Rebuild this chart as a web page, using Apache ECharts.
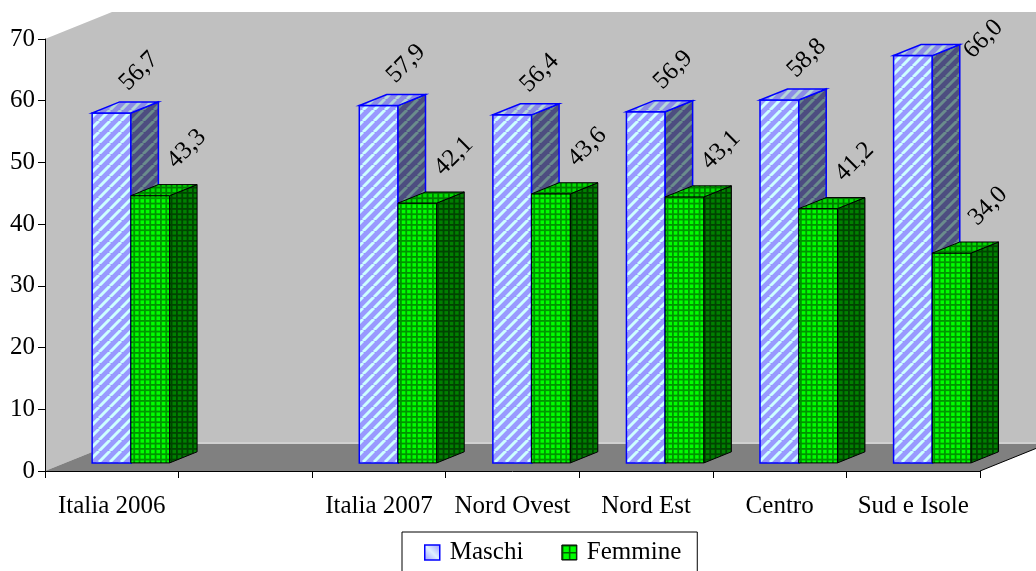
<!DOCTYPE html>
<html>
<head>
<meta charset="utf-8">
<title>Maschi e Femmine</title>
<script src="https://cdn.jsdelivr.net/npm/echarts/dist/echarts.min.js"></script>
<style>
  html, body { margin: 0; padding: 0; background: #ffffff; }
  #chart { width: 1036px; height: 571px; }
</style>
</head>
<body>
<div id="chart"></div>
<script>
// ---- data ----
const categories = ['Italia 2006', '', 'Italia 2007', 'Nord Ovest', 'Nord Est', 'Centro', 'Sud e Isole'];
const seriesNames = ['Maschi', 'Femmine'];
const maschi  = [56.7, null, 57.9, 56.4, 56.9, 58.8, 66.0];
const femmine = [43.3, null, 42.1, 43.6, 43.1, 41.2, 34.0];
const yMin = 0, yMax = 70, yStep = 10;

// ---- layout ----
const GRID = { left: 45, right: 56, top: 39, bottom: 100 };
const W = 1036, H = 571;
const DEPTH = [67, -27];            // offset of the back wall from the front plane
const BAR_D0 = 0.30, BAR_D1 = 0.71; // depth span of the boxes (fraction of DEPTH)
const BAR_W = 0.29;                 // box width as a fraction of the category band
const FONT = 'Liberation Serif';
const FS = 25;
// label anchor offsets from the centre of each box's top face
const LABEL_OFF = [[7, -12], [16, -17]];

// ---- fill patterns ----
function stripeTile(bg, fg, size, lw) {
  const c = document.createElement('canvas');
  c.width = c.height = size;
  const g = c.getContext('2d');
  g.fillStyle = bg; g.fillRect(0, 0, size, size);
  g.strokeStyle = fg; g.lineWidth = lw;
  g.beginPath();
  for (let k = -1; k <= 1; k++) { g.moveTo(k * size, size); g.lineTo(k * size + size, 0); }
  g.stroke();
  return { image: c, repeat: 'repeat' };
}
function gridTile(bg, fg, size, n, lw) {
  const c = document.createElement('canvas');
  c.width = c.height = size;
  const g = c.getContext('2d');
  g.fillStyle = bg; g.fillRect(0, 0, size, size);
  g.fillStyle = fg;
  for (let k = 0; k < n; k++) {
    const p = k * size / n;
    g.fillRect(p, 0, lw, size);
    g.fillRect(0, p, size, lw);
  }
  return { image: c, repeat: 'repeat' };
}

const STYLES = [
  {
    front: stripeTile('#9999ff', '#ccffff', 11, 3),
    top:   stripeTile('#8c8ce6', '#b4d8d8', 11, 3),
    side:  stripeTile('#4d4d80', '#6a8c8c', 11, 3),
    stroke: '#0000ff', lineWidth: 1.5
  },
  {
    front: gridTile('#00ff00', '#009400', 16, 3, 1.8),
    top:   gridTile('#00dd00', '#007c00', 16, 3, 1.8),
    side:  gridTile('#008000', '#004400', 16, 3, 1.8),
    stroke: '#000000', lineWidth: 1
  }
];

function fmt(v) { return v.toFixed(1).replace('.', ','); }

function boxRenderer(idx) {
  const st = STYLES[idx];
  return function (params, api) {
    const v = api.value(1);
    if (v == null || isNaN(v)) return null;
    const cat = api.value(0);
    const band = api.size([1, 0])[0];
    const base = api.coord([cat, 0]);
    const top = api.coord([cat, v]);
    const w = band * BAR_W;
    const x0 = (idx === 0 ? base[0] - w : base[0]) - 1;
    const x1 = x0 + w;
    const ox = DEPTH[0] * BAR_D0, oy = DEPTH[1] * BAR_D0;
    const dx = DEPTH[0] * (BAR_D1 - BAR_D0), dy = DEPTH[1] * (BAR_D1 - BAR_D0);
    const fl = x0 + ox, fr = x1 + ox, fb = base[1] + oy, ft = top[1] + oy;
    const edge = { stroke: st.stroke, lineWidth: st.lineWidth, lineJoin: 'miter' };
    // label anchor: above the top face, or beside the box when too close to the top edge
    let lx, ly;
    if (ft < 80) {
      lx = fr + dx + 17; ly = ft + dy + 19;
    } else {
      lx = (fl + fr) / 2 + dx / 2 + LABEL_OFF[idx][0];
      ly = ft + dy / 2 + LABEL_OFF[idx][1];
    }
    return {
      type: 'group',
      children: [
        { type: 'polygon', shape: { points: [[fl, ft], [fr, ft], [fr, fb], [fl, fb]] },
          style: Object.assign({ fill: st.front }, edge) },
        { type: 'polygon', shape: { points: [[fr, ft], [fr + dx, ft + dy], [fr + dx, fb + dy], [fr, fb]] },
          style: Object.assign({ fill: st.side }, edge) },
        { type: 'polygon', shape: { points: [[fl, ft], [fr, ft], [fr + dx, ft + dy], [fl + dx, ft + dy]] },
          style: Object.assign({ fill: st.top }, edge) },
        { type: 'text', x: lx, y: ly, rotation: Math.PI / 4,
          style: { text: fmt(v), fill: '#000', font: FS + 'px "' + FONT + '"',
                   textAlign: 'left', textVerticalAlign: 'bottom' } }
      ]
    };
  };
}

// ---- walls and floor (derived from the grid layout) ----
const L = GRID.left, T = GRID.top, R = W - GRID.right, B = H - GRID.bottom;
const DX = DEPTH[0], DY = DEPTH[1];
const walls = [
  { type: 'polygon', z: -10, shape: { points: [[L, T], [L + DX, T + DY], [L + DX, B + DY], [L, B]] },
    style: { fill: '#c0c0c0' } },
  { type: 'polygon', z: -10, shape: { points: [[L + DX, T + DY], [R + DX, T + DY], [R + DX, B + DY], [L + DX, B + DY]] },
    style: { fill: '#c0c0c0' } },
  { type: 'polygon', z: -9, shape: { points: [[L, B], [R, B], [R + DX, B + DY], [L + DX, B + DY]] },
    style: { fill: '#808080' } },
  { type: 'line', z: -8, shape: { x1: L + DX, y1: B + DY - 1, x2: R + DX, y2: B + DY - 1 },
    style: { stroke: '#d6d6d6', lineWidth: 1.5 } },
  { type: 'line', z: -8, shape: { x1: R, y1: B, x2: R + DX, y2: B + DY },
    style: { stroke: '#000000', lineWidth: 1 } }
];

const chart = echarts.init(document.getElementById('chart'), null, { renderer: 'canvas' });
chart.setOption({
  animation: false,
  backgroundColor: '#ffffff',
  textStyle: { fontFamily: FONT },
  grid: { left: GRID.left, right: GRID.right, top: GRID.top, bottom: GRID.bottom, containLabel: false },
  graphic: { elements: walls },
  xAxis: {
    type: 'category',
    data: categories,
    boundaryGap: true,
    axisLine: { lineStyle: { color: '#000', width: 1 } },
    axisTick: { show: true, length: 7, alignWithLabel: false, interval: 0, lineStyle: { color: '#000' } },
    axisLabel: { interval: 0, margin: 23, color: '#000', fontSize: FS, fontFamily: FONT },
    splitLine: { show: false }
  },
  yAxis: {
    type: 'value',
    min: yMin, max: yMax, interval: yStep,
    axisLine: { show: true, lineStyle: { color: '#000', width: 1 } },
    axisTick: { show: true, length: 7, lineStyle: { color: '#000' } },
    axisLabel: { margin: 10, color: '#000', fontSize: FS, fontFamily: FONT },
    splitLine: { show: false }
  },
  legend: {
    left: 402, top: 532,
    orient: 'horizontal',
    backgroundColor: '#ffffff',
    borderColor: '#000', borderWidth: 1, borderRadius: 0,
    padding: [8, 16, 20, 22],
    itemGap: 38,
    itemWidth: 15, itemHeight: 15,
    icon: 'rect',
    textStyle: { color: '#000', fontSize: FS, fontFamily: FONT, padding: [0, 0, 0, 5] },
    data: [
      { name: seriesNames[0], itemStyle: {
          color: { type: 'linear', x: 0, y: 1, x2: 1, y2: 0,
                   colorStops: [{ offset: 0, color: '#9999ff' }, { offset: 0.5, color: '#e0f0ff' }, { offset: 1, color: '#9999ff' }] },
          borderColor: '#0000ff', borderWidth: 1.5 } },
      { name: seriesNames[1], itemStyle: {
          color: gridTile('#00ff00', '#006000', 14, 2, 1.5),
          borderColor: '#000000', borderWidth: 1 } }
    ]
  },
  series: [
    {
      name: seriesNames[0], type: 'custom', z: 2,
      itemStyle: { color: '#9999ff' },
      renderItem: boxRenderer(0),
      encode: { x: 0, y: 1 },
      data: maschi.map((v, i) => [i, v])
    },
    {
      name: seriesNames[1], type: 'custom', z: 3,
      itemStyle: { color: '#00ff00' },
      renderItem: boxRenderer(1),
      encode: { x: 0, y: 1 },
      data: femmine.map((v, i) => [i, v])
    }
  ]
});
</script>
</body>
</html>
